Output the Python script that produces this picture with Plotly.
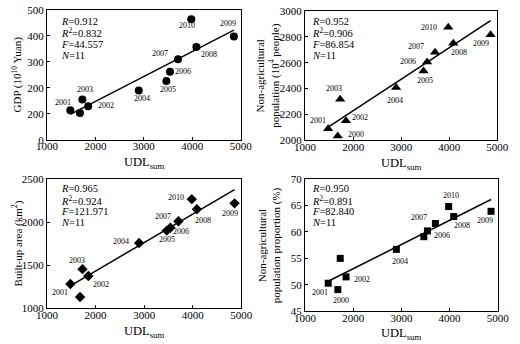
import numpy as np
import plotly.graph_objects as go

# ---------------- data ----------------
years = [2000, 2001, 2002, 2003, 2004, 2005, 2006, 2007, 2008, 2009, 2010]
udl_sum = [1680, 1480, 1850, 1730, 2895, 3465, 3540, 3705, 4085, 4860, 3980]
gdp = [103, 114, 129, 155, 190, 226, 262, 310, 357, 397, 464]
nonagri_pop = [2035, 2091, 2152, 2318, 2409, 2536, 2605, 2680, 2749, 2816, 2873]
built_area = [1132, 1282, 1376, 1455, 1759, 1902, 1936, 2011, 2150, 2218, 2267]
nonagri_prop = [49.1, 50.3, 51.5, 55.0, 56.7, 59.1, 60.2, 61.6, 62.9, 63.9, 64.8]

stats_gdp = ["0.912", "0.832", "44.557", "11"]
stats_pop = ["0.952", "0.906", "86.854", "11"]
stats_area = ["0.965", "0.924", "121.971", "11"]
stats_prop = ["0.950", "0.891", "82.840", "11"]

x_ticks = [1000, 2000, 3000, 4000, 5000]
gdp_ticks = [0, 100, 200, 300, 400, 500]
gdp_ticklabels = ["0", "200", "200", "300", "400", "500"]

# ---------------- styling / layout ----------------
FONT = "Liberation Serif"
W, H = 520, 344

# panel pixel boxes: (left, right, top, bottom)
boxes = [
    (37.7, 240.3, 4.0, 138.6),
    (307.7, 508.8, 5.0, 139.3),
    (37.7, 241.0, 179.3, 313.3),
    (307.7, 509.3, 179.3, 316.3),
]

# label offsets in px (dx, dy up) per panel
lab_off = [
    {2001: (-7, 8), 2003: (3, 10), 2002: (18, 1), 2004: (3, -8), 2005: (2, -8),
     2006: (13, 0), 2007: (-18, 6), 2008: (13, -7), 2010: (-4, -6), 2009: (-6, 13)},
    {2001: (-10, 8), 2000: (18, 1), 2003: (-6, 11), 2002: (14, 3), 2004: (-1, -13),
     2005: (1, -10), 2006: (-19, 1), 2007: (-19, 6), 2008: (6, -9), 2010: (-19, 0),
     2009: (-10, -9)},
    {2001: (-10, -8), 2003: (-5, 9), 2002: (13, -9), 2004: (-18, 1), 2005: (0, -9),
     2006: (11, -4), 2007: (-15, 5), 2008: (6, -11), 2010: (-16, 2), 2009: (-5, -10)},
    {2001: (-8, -9), 2000: (3, -11), 2002: (16, -3), 2004: (4, -12), 2006: (15, -5),
     2007: (-16, 6), 2008: (8, -9), 2010: (2, 11), 2009: (-6, -9)},
]

panels = [
    dict(y=gdp, symbol="circle", size=8, stats=stats_gdp, sx=12, sy=[12, 23, 35, 46],
         yrange=[0, 500], ytitle="GDP (10<sup>10</sup> Yuan)", ytx=7),
    dict(y=nonagri_pop, symbol="triangle-up", size=9, stats=stats_pop, sx=5, sy=[11, 22, 34, 45],
         yrange=[2000, 3000], ytitle="Non-agricultural<br>population (10<sup>4</sup> people)", ytx=269),
    dict(y=built_area, symbol="diamond", size=8, stats=stats_area, sx=12, sy=[9, 21, 32, 43],
         yrange=[1000, 2500], ytitle="Built-up area (km<sup>2</sup>)", ytx=7),
    dict(y=nonagri_prop, symbol="square", size=7, stats=stats_prop, sx=5, sy=[9, 21, 32, 43],
         yrange=[45, 70], ytitle="Non-agricultural<br>population proportion (%)", ytx=270),
]
dticks = [None, 200, 500, 5]

fig = go.Figure()
annotations = []

for i, p in enumerate(panels):
    n = i + 1
    xa = "x" if n == 1 else f"x{n}"
    ya = "y" if n == 1 else f"y{n}"
    left, right, top, bottom = boxes[i]

    # scatter points
    fig.add_trace(go.Scatter(
        x=udl_sum, y=p["y"], mode="markers", xaxis=xa, yaxis=ya,
        marker=dict(symbol=p["symbol"], size=p["size"], color="black",
                    line=dict(width=0)),
        showlegend=False, hoverinfo="skip"))

    # least-squares fit line
    k, b = np.polyfit(udl_sum, p["y"], 1)
    xs = [min(udl_sum), max(udl_sum)]
    fig.add_trace(go.Scatter(
        x=xs, y=[k * v + b for v in xs], mode="lines", xaxis=xa, yaxis=ya,
        line=dict(color="black", width=1.5), showlegend=False, hoverinfo="skip"))

    # year labels
    for yr, xv, yv in zip(years, udl_sum, p["y"]):
        if yr in lab_off[i]:
            dx, dy = lab_off[i][yr]
            annotations.append(dict(
                x=xv, y=yv, xref=xa, yref=ya, text=str(yr), showarrow=False,
                xshift=dx, yshift=dy, font=dict(family=FONT, size=8, color="#000000")))

    # statistics text
    stat_texts = [f"<i>R</i>={p['stats'][0]}", f"<i>R</i><sup>2</sup>={p['stats'][1]}",
                  f"<i>F</i>={p['stats'][2]}", f"<i>N</i>={p['stats'][3]}"]
    for t, off in zip(stat_texts, p["sy"]):
        annotations.append(dict(
            x=0, y=1, xref=f"{xa} domain", yref=f"{ya} domain", text=t,
            showarrow=False, xanchor="left", yanchor="middle",
            xshift=p["sx"], yshift=-off,
            font=dict(family=FONT, size=10.5, color="black")))

    # x title
    annotations.append(dict(
        x=(left + right) / 2 / W, y=1 - (bottom + 24) / H, xref="paper", yref="paper",
        text="UDL<sub>sum</sub>", showarrow=False, xanchor="center", yanchor="middle",
        font=dict(family=FONT, size=12.5, color="black")))
    # y title
    annotations.append(dict(
        x=p["ytx"] / W, y=1 - (top + bottom) / 2 / H, xref="paper", yref="paper",
        text=p["ytitle"], showarrow=False, textangle=-90, xanchor="center", yanchor="middle",
        font=dict(family=FONT, size=11, color="black")))

    axis_common = dict(showline=True, linecolor="black", linewidth=1.3, mirror=True,
                       showgrid=False, zeroline=False, ticks="inside", ticklen=3,
                       tickcolor="black", tickwidth=1,
                       tickfont=dict(family=FONT, size=11, color="black"))
    xkey = "xaxis" if n == 1 else f"xaxis{n}"
    ykey = "yaxis" if n == 1 else f"yaxis{n}"
    fig.layout[xkey] = dict(domain=[left / W, right / W], range=[1000, 5000],
                            tickmode="array", tickvals=x_ticks, anchor=ya,
                            ticklabelstandoff=-4, **axis_common)
    yax = dict(domain=[1 - bottom / H, 1 - top / H], range=p["yrange"], anchor=xa,
               ticklabelstandoff=0, **axis_common)
    if n == 1:
        yax.update(tickmode="array", tickvals=gdp_ticks, ticktext=gdp_ticklabels)
    else:
        yax.update(dtick=dticks[i], tick0=p["yrange"][0])
    fig.layout[ykey] = yax

fig.update_layout(
    width=W, height=H, margin=dict(l=0, r=0, t=0, b=0),
    paper_bgcolor="white", plot_bgcolor="white",
    annotations=annotations, showlegend=False,
)
fig.update_traces(cliponaxis=False)

fig.write_html("out.html")
